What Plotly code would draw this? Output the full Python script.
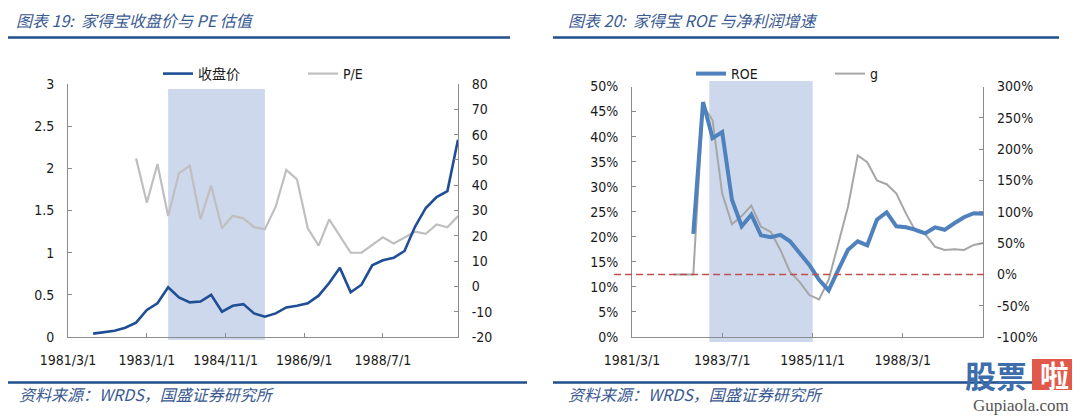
import pandas as pd
import plotly.graph_objects as go

# ---------------- data ----------------
quarters = [d.strftime("%Y-%m-%d") for d in pd.date_range("1981-10-01", periods=35, freq="QS-JAN")]

price = [0.04, 0.055, 0.075, 0.11, 0.17, 0.32, 0.40, 0.59, 0.47, 0.41, 0.42, 0.50,
         0.30, 0.37, 0.39, 0.28, 0.24, 0.28, 0.35, 0.37, 0.40, 0.49, 0.64, 0.82,
         0.53, 0.62, 0.85, 0.91, 0.94, 1.02, 1.31, 1.53, 1.66, 1.73, 2.34]
pe_dates = quarters[4:]
pe = [50.6, 33.1, 48.4, 27.8, 44.7, 47.7, 26.6, 39.8, 23.0, 27.9, 26.9, 23.4, 22.6,
      31.5, 46.0, 42.3, 23.0, 16.1, 26.5, 19.9, 13.3, 13.3, 16.4, 19.4, 17.0, 19.4,
      21.6, 20.8, 24.5, 23.4, 27.8]

roe_dates = quarters[4:]
roe = [20.6, 46.9, 39.7, 40.9, 27.4, 22.1, 24.4, 20.3, 19.9, 20.4, 19.1, 16.7, 14.4,
       11.4, 9.3, 13.4, 17.4, 19.1, 18.3, 23.4, 24.9, 22.1, 21.9, 21.4, 20.7, 21.9,
       21.4, 22.7, 23.9, 24.7, 24.6]
g_dates = quarters[2:]
g = [0, 0, 0, 270, 246, 129, 80, 93, 110, 76, 68, 39, 4, -12, -33, -40, -9, 49, 108,
     190, 179, 150, 144, 129, 97, 69, 64, 44, 39, 40, 39, 47, 50]

x_range = ["1981-03-01", "1990-04-01"]
left_tickvals = ["1981-03-01", "1983-01-01", "1984-11-01", "1986-09-01", "1988-07-01"]
left_ticktext = ["1981/3/1", "1983/1/1", "1984/11/1", "1986/9/1", "1988/7/1"]
right_tickvals = ["1981-03-01", "1983-07-01", "1985-11-01", "1988-03-01"]
right_ticktext = ["1981/3/1", "1983/7/1", "1985/11/1", "1988/3/1"]

price_ticks = [0, 0.5, 1, 1.5, 2, 2.5, 3]
pe_ticks = [-20, -10, 0, 10, 20, 30, 40, 50, 60, 70, 80]
roe_ticks = [0, 5, 10, 15, 20, 25, 30, 35, 40, 45, 50]
g_ticks = [-100, -50, 0, 50, 100, 150, 200, 250, 300]

left_shade = ["1983-07-01", "1985-10-01"]
right_shade = ["1983-03-01", "1985-11-01"]
g_reference = 0

title_left = "图表 19:  家得宝收盘价与 PE 估值"
title_right = "图表 20:  家得宝 ROE 与净利润增速"
source = "资料来源：WRDS，国盛证券研究所"

# ---------------- style ----------------
OFF = 8                       # page body margin
W, H = 1080 - OFF, 416 - OFF  # figure size so it fills the window exactly
TICKFONT = dict(family="DejaVu Sans Condensed, DejaVu Sans", size=14, color="#1a1a1a")
AXCOL = "#8c8c8c"
TITLE_COL = "#3A5A92"
SEP_COL = "#1F4E8C"


def px(x):
    """screen x (window pixels) -> paper fraction"""
    return (x - OFF) / W


def py(y):
    """screen y (window pixels, from top) -> paper fraction"""
    return (H - (y - OFF)) / H


fig = go.Figure()

# left panel
fig.add_trace(go.Scatter(x=pe_dates, y=pe, name="P/E", mode="lines",
                         line=dict(color="#BFBFBF", width=2.2),
                         xaxis="x", yaxis="y", legend="legend", legendrank=2))
fig.add_trace(go.Scatter(x=quarters, y=price, name="收盘价", mode="lines",
                         line=dict(color="#1F4E96", width=2.6),
                         xaxis="x", yaxis="y2", legend="legend", legendrank=1))
# right panel
fig.add_trace(go.Scatter(x=g_dates, y=g, name="g", mode="lines",
                         line=dict(color="#A6A6A6", width=2),
                         xaxis="x2", yaxis="y3", legend="legend2", legendrank=2))
fig.add_trace(go.Scatter(x=roe_dates, y=roe, name="ROE", mode="lines",
                         line=dict(color="#4F81BD", width=4),
                         xaxis="x2", yaxis="y4", legend="legend2", legendrank=1))

common_axis = dict(showgrid=False, zeroline=False, showline=True, linecolor=AXCOL,
                   linewidth=1, ticks="inside", ticklen=4, tickcolor=AXCOL,
                   tickfont=TICKFONT, ticklabelstandoff=10, automargin=False)

fig.update_layout(
    xaxis=dict(domain=[px(68), px(458)], type="date", range=x_range, anchor="y",
               tickvals=left_tickvals, ticktext=left_ticktext, **common_axis),
    yaxis=dict(domain=[py(337), py(84)], range=[-20, 80], side="right", anchor="x",
               tickvals=pe_ticks, ticktext=[str(v) for v in pe_ticks], **common_axis),
    yaxis2=dict(range=[0, 3], side="left", overlaying="y", anchor="x",
                tickvals=price_ticks, ticktext=[f"{v:g}" for v in price_ticks], **common_axis),
    xaxis2=dict(domain=[px(632), px(983.3)], type="date", range=x_range, anchor="y3",
                tickvals=right_tickvals, ticktext=right_ticktext, **common_axis),
    yaxis3=dict(domain=[py(337), py(86.5)], range=[-100, 300], side="right", anchor="x2",
                tickvals=g_ticks, ticktext=[f"{v}%" for v in g_ticks], **common_axis),
    yaxis4=dict(range=[0, 50], side="left", overlaying="y3", anchor="x2",
                tickvals=roe_ticks, ticktext=[f"{v}%" for v in roe_ticks], **common_axis),
)

legend_common = dict(orientation="h", bgcolor="rgba(0,0,0,0)", xanchor="left", yanchor="middle",
                     font=dict(family="DejaVu Sans Condensed, Noto Sans CJK SC", size=14, color="#1a1a1a"),
                     entrywidthmode="pixels", itemwidth=30, tracegroupgap=0)
fig.update_layout(
    legend=dict(x=px(158), y=py(74), entrywidth=100, **legend_common),
    legend2=dict(x=px(691), y=py(74), entrywidth=94, **legend_common),
)

shapes = []
# shaded periods
shapes.append(dict(type="rect", xref="x", yref="y domain", x0=left_shade[0], x1=left_shade[1],
                   y0=-0.012, y1=0.98, fillcolor="#CDD8EC", line=dict(width=0), layer="below"))
shapes.append(dict(type="rect", xref="x2", yref="y3 domain", x0=right_shade[0], x1=right_shade[1],
                   y0=-0.02, y1=1.022, fillcolor="#CDD8EC", line=dict(width=0), layer="below"))
# zero reference line for g
shapes.append(dict(type="line", xref="x2 domain", yref="y3", x0=-0.051, x1=1.011,
                   y0=g_reference, y1=g_reference, line=dict(color="#C0504D", width=1.5, dash="7px,4px")))
# separators
for (xa, xb, yy) in [(8, 510, 37.5), (553, 1059, 37.5), (8, 527, 382.5), (553, 1059, 382.5)]:
    shapes.append(dict(type="line", xref="paper", yref="paper", x0=px(xa), x1=px(xb),
                       y0=py(yy), y1=py(yy), line=dict(color=SEP_COL, width=2.5)))
# watermark box
shapes.append(dict(type="rect", xref="paper", yref="paper", x0=px(1032), x1=px(1077),
                   y0=py(390), y1=py(359), fillcolor="#E0594B", line=dict(width=0)))
fig.update_layout(shapes=shapes)

ann = []
title_font = dict(family="Noto Sans CJK SC", size=16, color=TITLE_COL)
ann.append(dict(text=f"<i>{title_left}</i>", x=px(14), y=py(20), xref="paper", yref="paper",
                xanchor="left", yanchor="middle", showarrow=False, font=title_font))
ann.append(dict(text=f"<i>{title_right}</i>", x=px(566), y=py(20), xref="paper", yref="paper",
                xanchor="left", yanchor="middle", showarrow=False, font=title_font))
ann.append(dict(text=f"<i>{source}</i>", x=px(17), y=py(394), xref="paper", yref="paper",
                xanchor="left", yanchor="middle", showarrow=False, font=title_font))
ann.append(dict(text=f"<i>{source}</i>", x=px(566), y=py(394), xref="paper", yref="paper",
                xanchor="left", yanchor="middle", showarrow=False, font=title_font))
# watermark text
ann.append(dict(text="<b>股票</b>", x=px(996), y=py(374), xref="paper", yref="paper",
                xanchor="center", yanchor="middle", showarrow=False,
                font=dict(family="Noto Sans CJK SC", size=31, color="#3D6DAA")))
ann.append(dict(text="<b>啦</b>", x=px(1054.5), y=py(374), xref="paper", yref="paper",
                xanchor="center", yanchor="middle", showarrow=False,
                font=dict(family="Noto Sans CJK SC", size=29, color="#FFFFFF")))
ann.append(dict(text="Gupiaola.com", x=px(1021), y=py(405), xref="paper", yref="paper",
                xanchor="center", yanchor="middle", showarrow=False,
                font=dict(family="Liberation Serif", size=17, color="#555555")))
fig.update_layout(annotations=ann)

fig.update_layout(width=W, height=H, margin=dict(l=0, r=0, t=0, b=0, pad=0, autoexpand=False),
                  paper_bgcolor="white", plot_bgcolor="white", showlegend=True)

fig.write_html("out.html")
